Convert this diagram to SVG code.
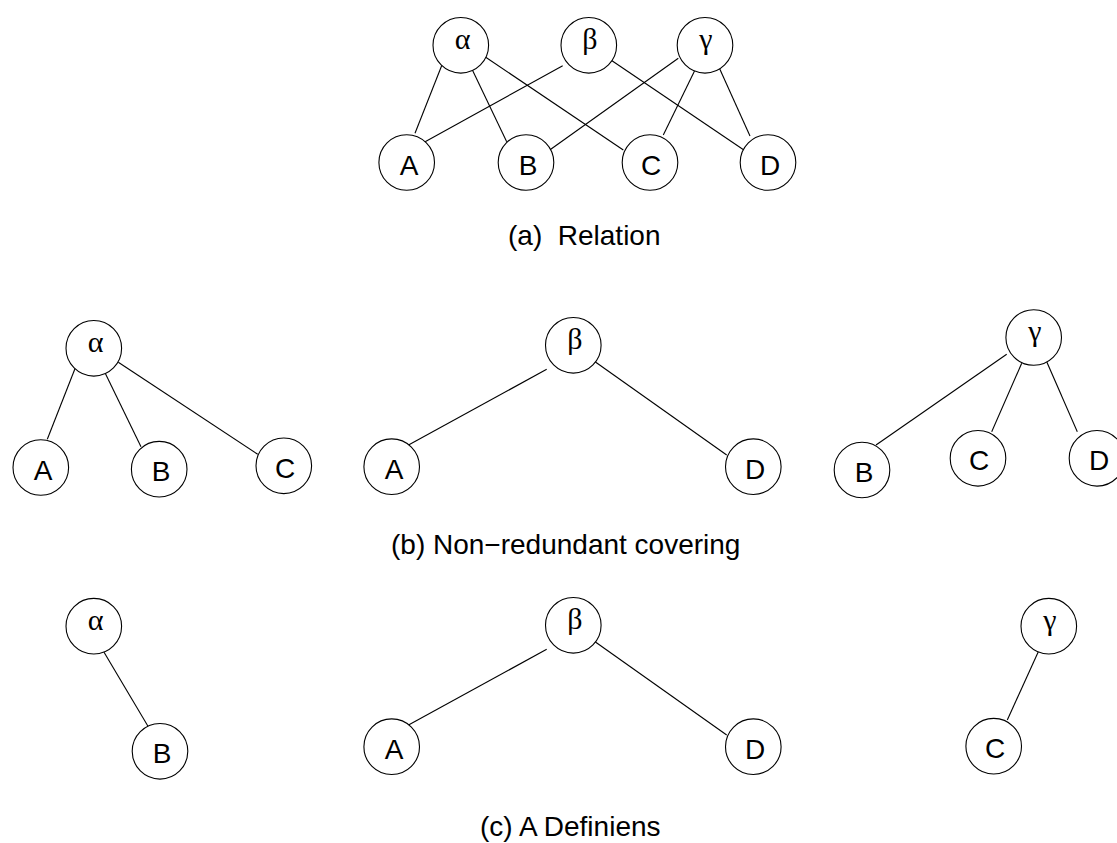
<svg xmlns="http://www.w3.org/2000/svg" width="1117" height="843" viewBox="0 0 1117 843">
<style>
.n circle{fill:#fff;stroke:#000;stroke-width:1.1}
.lat{font-family:"Liberation Sans",Arial,sans-serif;font-size:28px;text-anchor:middle;fill:#000}
.gr{font-family:"Liberation Serif","Times New Roman",serif;font-size:30px;text-anchor:middle;fill:#000}
.cap{font-family:"Liberation Sans",Arial,sans-serif;font-size:28px;fill:#000}
#edges line{stroke:#000;stroke-width:1.1}
</style>
<rect width="1117" height="843" fill="#fff"/>
<g id="edges">
<line x1="445" y1="57.3" x2="415" y2="133.3"/>
<line x1="470" y1="65" x2="506.7" y2="141.7"/>
<line x1="485" y1="56.7" x2="623.3" y2="150"/>
<line x1="562.7" y1="65.7" x2="423.3" y2="142.7"/>
<line x1="608.3" y1="58.3" x2="745" y2="150.7"/>
<line x1="678.3" y1="58.3" x2="548.3" y2="151"/>
<line x1="695" y1="70" x2="663.3" y2="135"/>
<line x1="718.3" y1="65.7" x2="750" y2="136"/>
<line x1="77.7" y1="361.7" x2="47.3" y2="439.3"/>
<line x1="103.3" y1="369.3" x2="141" y2="446.7"/>
<line x1="118.3" y1="362.3" x2="257.7" y2="454.3"/>
<line x1="546.7" y1="369.3" x2="406.7" y2="446"/>
<line x1="594" y1="361" x2="726.7" y2="455"/>
<line x1="1006.7" y1="354.3" x2="876" y2="445"/>
<line x1="1021.7" y1="363.3" x2="991.7" y2="431.7"/>
<line x1="1046.7" y1="361.7" x2="1077.3" y2="431.7"/>
<line x1="102.7" y1="650" x2="148.3" y2="726.7"/>
<line x1="546.7" y1="649.3" x2="406.7" y2="726"/>
<line x1="594" y1="641" x2="726.7" y2="735"/>
<line x1="1038.3" y1="651.7" x2="1007.3" y2="720"/>
</g>
<g id="a-alpha" class="n"><circle cx="460.8" cy="45.3" r="27.8"/><text class="gr" x="462.5" y="49">α</text></g>
<g id="a-beta" class="n"><circle cx="588.8" cy="45.3" r="27.8"/><text class="gr" x="590" y="49">β</text></g>
<g id="a-gamma" class="n"><circle cx="705" cy="45.3" r="27.8"/><text class="gr" x="706" y="49">γ</text></g>
<g id="a-A" class="n"><circle cx="406.7" cy="162.5" r="27.8"/><text class="lat" x="409" y="174.5">A</text></g>
<g id="a-B" class="n"><circle cx="526" cy="162.5" r="27.8"/><text class="lat" x="528" y="174.5">B</text></g>
<g id="a-C" class="n"><circle cx="650" cy="162.5" r="27.8"/><text class="lat" x="651" y="174.5">C</text></g>
<g id="a-D" class="n"><circle cx="768" cy="162.5" r="27.8"/><text class="lat" x="770" y="174.5">D</text></g>
<text class="cap" x="508" y="245" xml:space="preserve">(a)  Relation</text>

<g id="b1-alpha" class="n"><circle cx="93.8" cy="348.3" r="27.8"/><text class="gr" x="95.5" y="352">α</text></g>
<g id="b1-A" class="n"><circle cx="40.8" cy="467.5" r="27.8"/><text class="lat" x="43" y="479.5">A</text></g>
<g id="b1-B" class="n"><circle cx="159.2" cy="469.2" r="27.8"/><text class="lat" x="161" y="481.2">B</text></g>
<g id="b1-C" class="n"><circle cx="283.8" cy="465.8" r="27.8"/><text class="lat" x="285" y="477.8">C</text></g>
<g id="b2-beta" class="n"><circle cx="573.3" cy="345.3" r="27.8"/><text class="gr" x="575" y="349">β</text></g>
<g id="b2-A" class="n"><circle cx="391.7" cy="466.7" r="27.8"/><text class="lat" x="394" y="478.7">A</text></g>
<g id="b2-D" class="n"><circle cx="753.3" cy="466.7" r="27.8"/><text class="lat" x="755" y="478.7">D</text></g>
<g id="b3-gamma" class="n"><circle cx="1033.7" cy="337.5" r="27.8"/><text class="gr" x="1035" y="341">γ</text></g>
<g id="b3-B" class="n"><circle cx="862" cy="470" r="27.8"/><text class="lat" x="864" y="482">B</text></g>
<g id="b3-C" class="n"><circle cx="978" cy="458.3" r="27.8"/><text class="lat" x="979" y="470.3">C</text></g>
<g id="b3-D" class="n"><circle cx="1097" cy="458.3" r="27.8"/><text class="lat" x="1099" y="470.3">D</text></g>
<text class="cap" x="391" y="554">(b) Non−redundant covering</text>

<g id="c1-alpha" class="n"><circle cx="93.8" cy="626.2" r="27.8"/><text class="gr" x="95.5" y="630">α</text></g>
<g id="c1-B" class="n"><circle cx="160" cy="751.3" r="27.8"/><text class="lat" x="162" y="763.3">B</text></g>
<g id="c2-beta" class="n"><circle cx="573.3" cy="625.3" r="27.8"/><text class="gr" x="575" y="629">β</text></g>
<g id="c2-A" class="n"><circle cx="391.7" cy="746.7" r="27.8"/><text class="lat" x="394" y="758.7">A</text></g>
<g id="c2-D" class="n"><circle cx="753.3" cy="746.7" r="27.8"/><text class="lat" x="755" y="758.7">D</text></g>
<g id="c3-gamma" class="n"><circle cx="1048.8" cy="626.2" r="27.8"/><text class="gr" x="1050" y="630">γ</text></g>
<g id="c3-C" class="n"><circle cx="993.7" cy="746.2" r="27.8"/><text class="lat" x="995" y="758.2">C</text></g>
<text class="cap" x="480" y="836">(c) A Definiens</text>
</svg>
